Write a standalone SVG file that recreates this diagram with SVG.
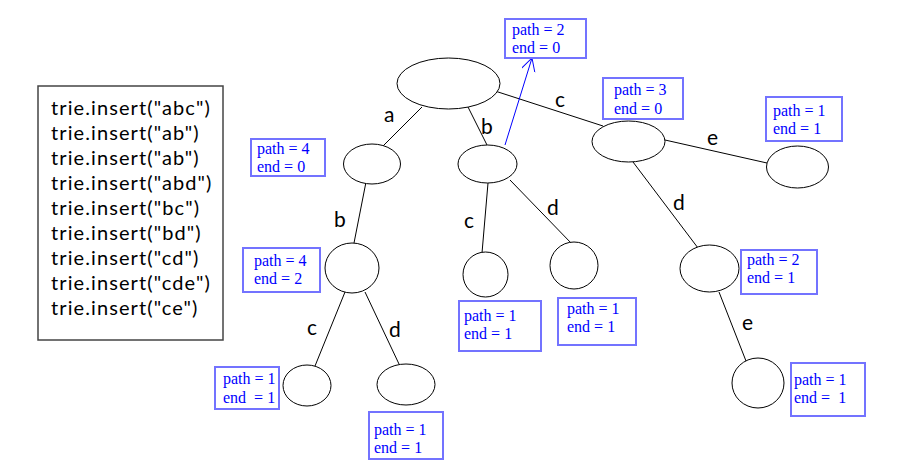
<svg xmlns="http://www.w3.org/2000/svg" width="905" height="473" viewBox="0 0 905 473">
<style>
.n{fill:#fff;stroke:#000;stroke-width:1}
.e{stroke:#000;stroke-width:1;fill:none}
.lb{font-family:Lato,"Open Sans",sans-serif;font-size:21px;fill:#000}
.code{font-family:Lato,"Open Sans",sans-serif;font-size:20px;letter-spacing:1.1px;fill:#000}
.ib{fill:#fff;stroke:#7373ff;stroke-width:2}
.it{font-family:"Liberation Serif",serif;font-size:16px;fill:#0000ff}
</style>
<defs>
<marker id="arr" markerWidth="16" markerHeight="16" refX="13" refY="7" orient="auto" markerUnits="userSpaceOnUse">
<path d="M0,0 L13,7 L0,14" fill="none" stroke="#0000ff" stroke-width="1"/>
</marker>
</defs>
<rect width="905" height="473" fill="#fff"/>
<g id="code">
<rect x="38" y="86" width="185" height="254" fill="#fff" stroke="#444" stroke-width="1.5"/>
<text class="code" x="51" y="115">trie.insert("abc")</text>
<text class="code" x="51" y="140">trie.insert("ab")</text>
<text class="code" x="51" y="165">trie.insert("ab")</text>
<text class="code" x="51" y="190">trie.insert("abd")</text>
<text class="code" x="51" y="215">trie.insert("bc")</text>
<text class="code" x="51" y="240">trie.insert("bd")</text>
<text class="code" x="51" y="265">trie.insert("cd")</text>
<text class="code" x="51" y="290">trie.insert("cde")</text>
<text class="code" x="51" y="315">trie.insert("ce")</text>
</g>
<g id="connectors">
<line class="e" x1="422" y1="107" x2="383" y2="146"/>
<line class="e" x1="468" y1="107" x2="487" y2="145"/>
<line class="e" x1="495" y1="91" x2="603" y2="126"/>
<line class="e" x1="665" y1="140" x2="767" y2="163"/>
<line class="e" x1="366" y1="182" x2="354" y2="243"/>
<line class="e" x1="488" y1="183" x2="482" y2="253"/>
<line class="e" x1="510" y1="180" x2="572" y2="244"/>
<line class="e" x1="633" y1="162" x2="698" y2="248"/>
<line class="e" x1="719" y1="292" x2="746" y2="361"/>
<line class="e" x1="345" y1="292" x2="315" y2="366"/>
<line class="e" x1="365" y1="292" x2="399" y2="364"/>
<line x1="505" y1="145" x2="532" y2="58" stroke="#0000ff" stroke-width="1" marker-end="url(#arr)"/>
<text class="lb" x="384" y="122">a</text>
<text class="lb" x="481" y="134">b</text>
<text class="lb" x="555" y="107">c</text>
<text class="lb" x="707" y="145">e</text>
<text class="lb" x="334" y="227">b</text>
<text class="lb" x="464" y="228">c</text>
<text class="lb" x="547" y="215">d</text>
<text class="lb" x="673" y="210">d</text>
<text class="lb" x="742" y="330">e</text>
<text class="lb" x="307" y="335">c</text>
<text class="lb" x="389" y="337">d</text>
</g>
<g id="root"><ellipse class="n" cx="448.5" cy="83.5" rx="51.5" ry="25.5"/></g>
<g id="node-a"><ellipse class="n" cx="372" cy="164" rx="28.5" ry="20"/></g>
<g id="node-b"><ellipse class="n" cx="487.5" cy="164" rx="29.5" ry="19"/></g>
<g id="node-c"><ellipse class="n" cx="628.5" cy="141.5" rx="36.5" ry="20.5"/></g>
<g id="node-ce"><ellipse class="n" cx="797.5" cy="167" rx="31" ry="21"/></g>
<g id="node-ab"><ellipse class="n" cx="352" cy="268" rx="27" ry="25"/></g>
<g id="node-abc"><ellipse class="n" cx="307" cy="385.5" rx="24" ry="20.5"/></g>
<g id="node-abd"><ellipse class="n" cx="406" cy="384.5" rx="29" ry="20.5"/></g>
<g id="node-bc"><ellipse class="n" cx="485.5" cy="274.5" rx="22.5" ry="22.5"/></g>
<g id="node-bd"><ellipse class="n" cx="574" cy="265.5" rx="24" ry="23.5"/></g>
<g id="node-cd"><ellipse class="n" cx="709.5" cy="268.5" rx="29.5" ry="23.5"/></g>
<g id="node-cde"><ellipse class="n" cx="758" cy="383" rx="26" ry="25"/></g>
<g id="info-b">
<rect class="ib" x="505" y="19" width="81" height="39"/>
<text class="it" x="512" y="35">path = 2</text><text class="it" x="512" y="53">end = 0</text>
</g>
<g id="info-c">
<rect class="ib" x="603" y="78" width="80" height="41"/>
<text class="it" x="614" y="95">path = 3</text><text class="it" x="614" y="114">end = 0</text>
</g>
<g id="info-ce">
<rect class="ib" x="766" y="97" width="76" height="44"/>
<text class="it" x="773" y="116">path = 1</text><text class="it" x="773" y="134">end = 1</text>
</g>
<g id="info-a">
<rect class="ib" x="251" y="139" width="74" height="37"/>
<text class="it" x="257" y="154">path = 4</text><text class="it" x="257" y="172">end = 0</text>
</g>
<g id="info-ab">
<rect class="ib" x="243" y="248" width="77" height="44"/>
<text class="it" x="254" y="266">path = 4</text><text class="it" x="254" y="284">end = 2</text>
</g>
<g id="info-abc">
<rect class="ib" x="215" y="367" width="64" height="42"/>
<text class="it" x="223" y="384">path = 1</text><text class="it" x="223" y="403" xml:space="preserve">end  = 1</text>
</g>
<g id="info-abd">
<rect class="ib" x="369" y="412" width="74" height="47"/>
<text class="it" x="374" y="435">path = 1</text><text class="it" x="374" y="453">end = 1</text>
</g>
<g id="info-bc">
<rect class="ib" x="459" y="301" width="82" height="50"/>
<text class="it" x="464" y="321">path = 1</text><text class="it" x="464" y="339">end = 1</text>
</g>
<g id="info-bd">
<rect class="ib" x="558" y="298" width="78" height="47"/>
<text class="it" x="567" y="314">path = 1</text><text class="it" x="567" y="332">end = 1</text>
</g>
<g id="info-cd">
<rect class="ib" x="741" y="250" width="76" height="44"/>
<text class="it" x="747" y="265">path = 2</text><text class="it" x="747" y="283">end = 1</text>
</g>
<g id="info-cde">
<rect class="ib" x="791" y="363" width="74" height="53"/>
<text class="it" x="794" y="385">path = 1</text><text class="it" x="794" y="403" xml:space="preserve">end =  1</text>
</g>
</svg>
